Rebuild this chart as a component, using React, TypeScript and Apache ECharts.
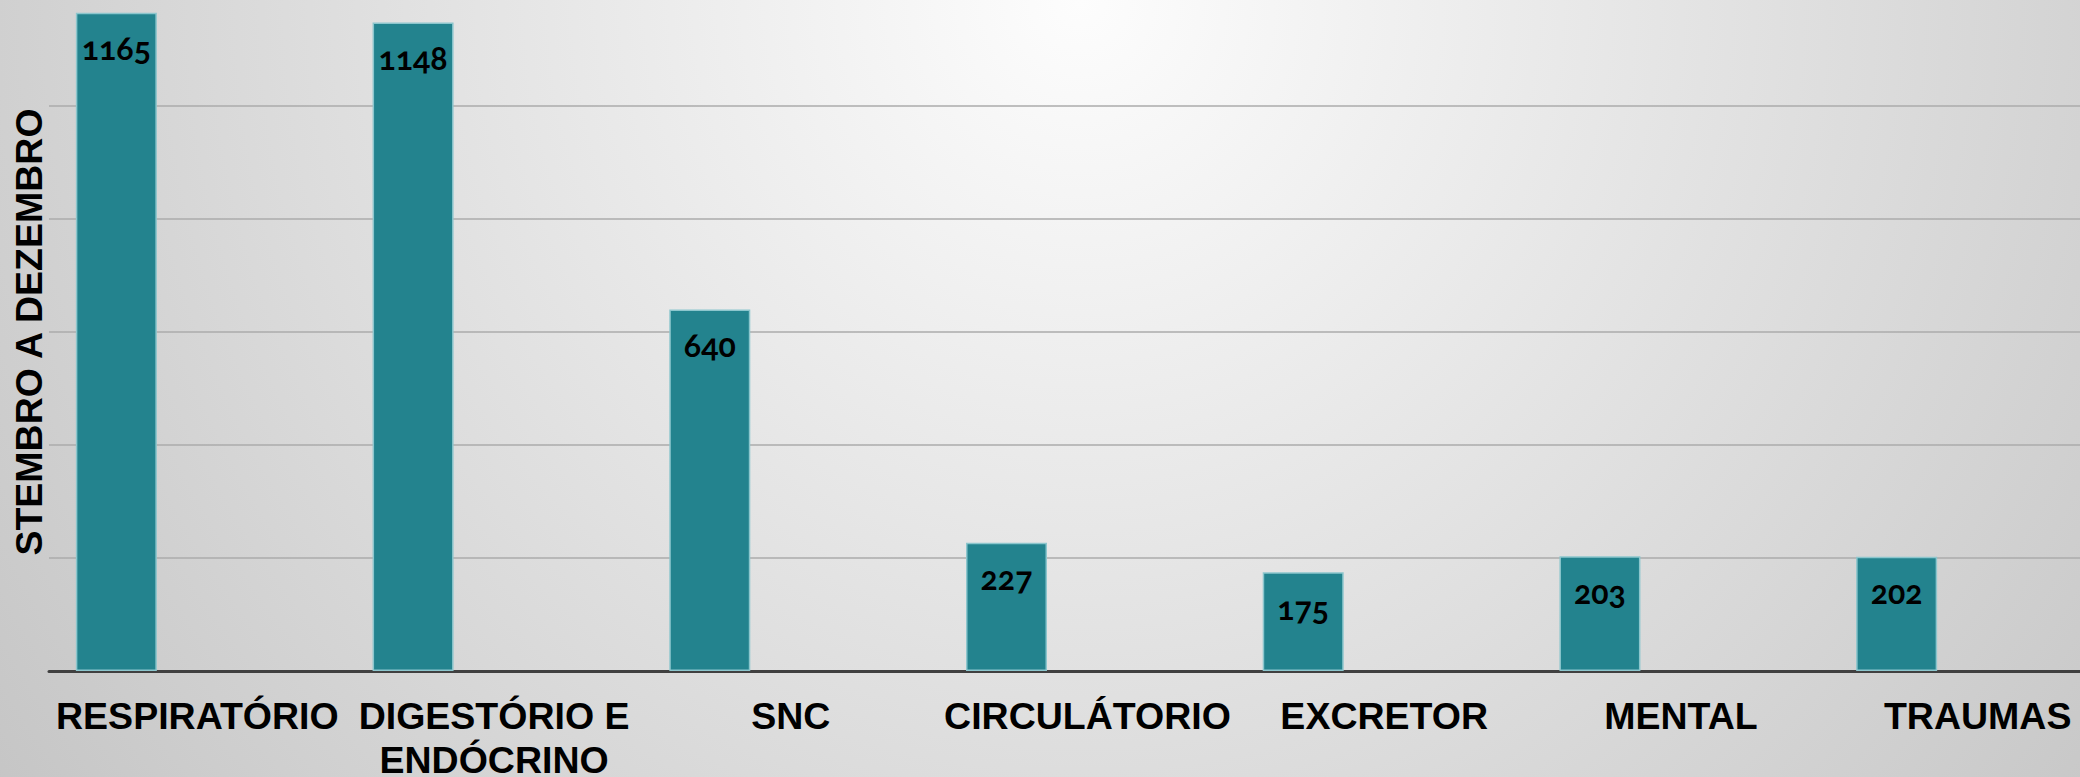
import React, { useEffect, useRef } from "react";
import * as echarts from "echarts";

const categories: string[] = [
  "RESPIRATÓRIO",
  "DIGESTÓRIO E\nENDÓCRINO",
  "SNC",
  "CIRCULÁTORIO",
  "EXCRETOR",
  "MENTAL",
  "TRAUMAS",
];

const serie1: number[] = [1165, 1148, 640, 227, 175, 203, 202];
const serie2: (number | null)[] = [null, null, null, null, null, null, null];
const serie3: (number | null)[] = [null, null, null, null, null, null, null];

const yAxisTitle = "STEMBRO A DEZEMBRO";
const yMin = 0;
const yMax = 1200;
const yStep = 200;

export default function App() {
  const ref = useRef<HTMLDivElement | null>(null);

  useEffect(() => {
    if (!ref.current) return;
    const chart = echarts.init(ref.current, undefined, { renderer: "svg" });
    const barColor = "#23838e";
    const borderColor = "#8cc6cd";
    chart.setOption({
      animation: false,
      backgroundColor: "transparent",
      grid: {
        left: 49,
        right: -46,
        top: -7,
        bottom: 106,
        containLabel: false,
        outerBoundsMode: "none",
      },
      xAxis: {
        type: "category",
        data: categories,
        axisTick: { show: false },
        axisLine: { show: true, lineStyle: { color: "#404040", width: 3 } },
        axisLabel: {
          interval: 0,
          margin: 23,
          color: "#000",
          fontFamily: "Liberation Sans",
          fontWeight: "bold",
          fontSize: 37.5,
          lineHeight: 44,
          align: "center",
        },
        splitLine: { show: false },
      },
      yAxis: {
        type: "value",
        min: yMin,
        max: yMax,
        interval: yStep,
        axisLabel: { show: false },
        axisLine: { show: false },
        axisTick: { show: false },
        splitLine: { show: true, lineStyle: { color: "#ababab", width: 1.5 } },
        name: yAxisTitle,
        nameLocation: "middle",
        nameRotate: 90,
        nameGap: 1,
        nameTextStyle: {
          color: "#000",
          fontFamily: "Liberation Sans",
          fontWeight: "bold",
          fontSize: 37.5,
        },
      },
      series: [
        {
          name: "Série 1",
          type: "bar",
          data: serie1,
          barWidth: 81,
          barGap: "0%",
          itemStyle: { color: barColor, borderColor: borderColor, borderWidth: 1.5 },
          label: {
            show: true,
            position: ["50%", 35],
            align: "center",
            verticalAlign: "middle",
            color: "#000",
            fontFamily: "Lato",
            fontWeight: "bold",
            fontSize: 32,
          },
        },
        {
          name: "Série 2",
          type: "bar",
          data: serie2,
          barWidth: 81,
          barGap: "0%",
          itemStyle: { color: barColor },
        },
        {
          name: "Série 3",
          type: "bar",
          data: serie3,
          barWidth: 81,
          barGap: "0%",
          itemStyle: { color: barColor },
        },
      ],
    });
    return () => chart.dispose();
  }, []);

  return (
    <>
      <style>{`svg text { font-feature-settings: "onum" 1 !important; font-variant-numeric: oldstyle-nums !important; }`}</style>
      <div
        ref={ref}
        style={{
          position: "absolute",
          left: 0,
          top: 0,
          width: 2080,
          height: 777,
          background:
            "radial-gradient(circle 1420px at 1080px 0px, #fdfdfd 0%, #c2c2c2 100%)",
        }}
      />
    </>
  );
}
